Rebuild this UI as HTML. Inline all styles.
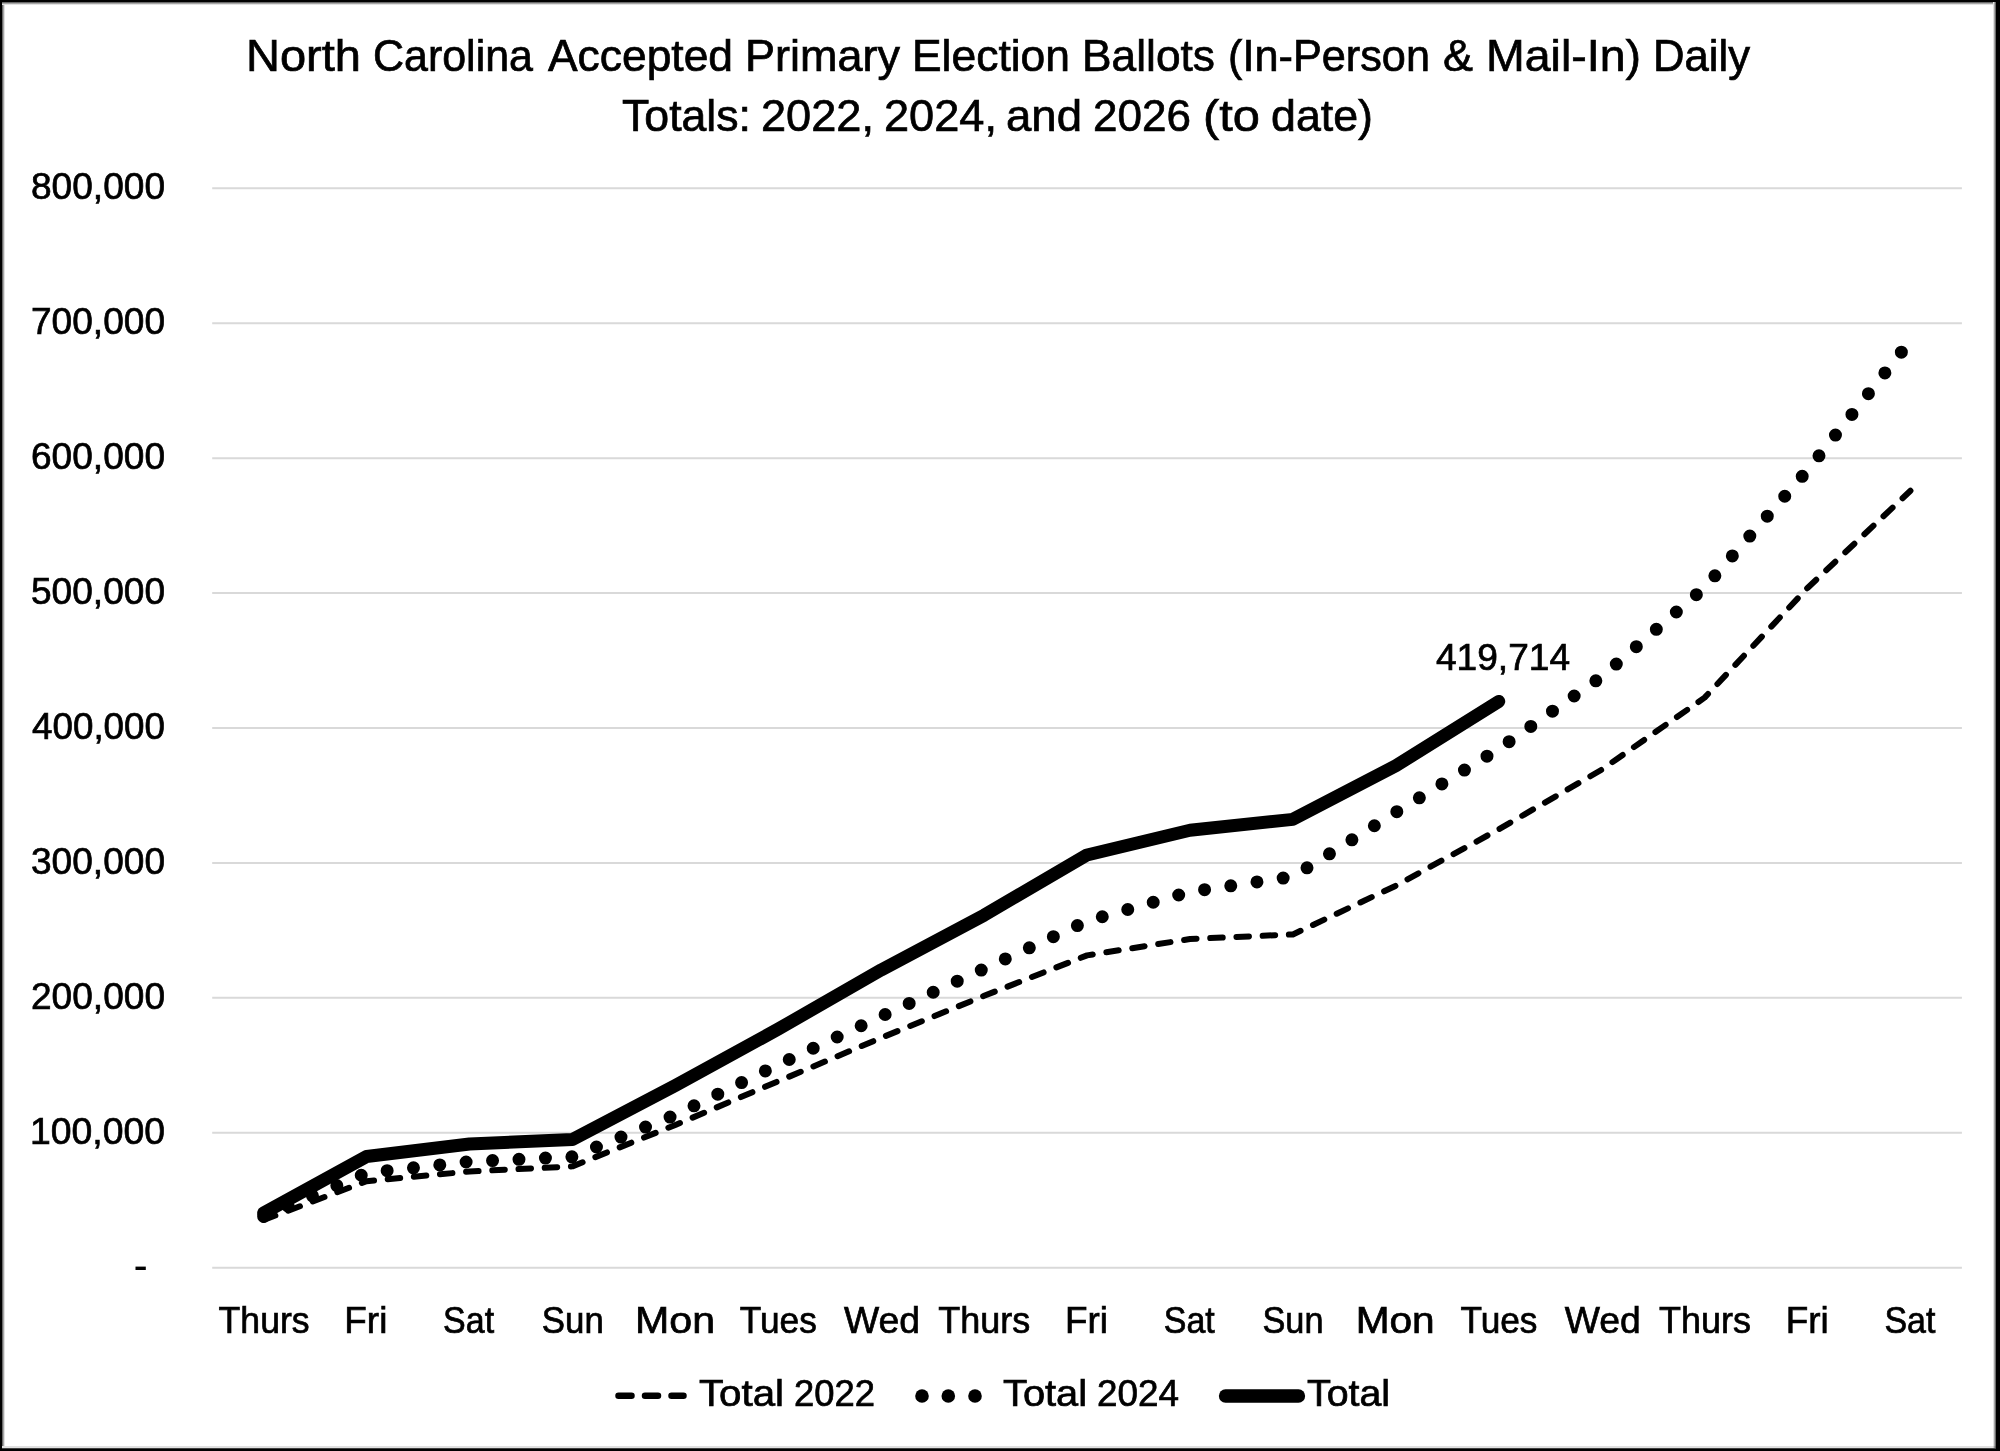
<!DOCTYPE html><html><head><meta charset="utf-8"><style>html,body{margin:0;padding:0;background:#fff;width:2000px;height:1451px;overflow:hidden}svg{display:block}text{font-family:"Liberation Sans",sans-serif;fill:#000;stroke:#000;stroke-width:0.7px}svg{will-change:transform}</style></head><body>
<svg width="2000" height="1451" viewBox="0 0 2000 1451">
<rect x="0" y="0" width="2000" height="1451" fill="#fff"/>
<line x1="212.2" y1="1267.70" x2="1961.9" y2="1267.70" stroke="#d9d9d9" stroke-width="2"/>
<line x1="212.2" y1="1132.78" x2="1961.9" y2="1132.78" stroke="#d9d9d9" stroke-width="2"/>
<line x1="212.2" y1="997.85" x2="1961.9" y2="997.85" stroke="#d9d9d9" stroke-width="2"/>
<line x1="212.2" y1="862.92" x2="1961.9" y2="862.92" stroke="#d9d9d9" stroke-width="2"/>
<line x1="212.2" y1="728.00" x2="1961.9" y2="728.00" stroke="#d9d9d9" stroke-width="2"/>
<line x1="212.2" y1="593.08" x2="1961.9" y2="593.08" stroke="#d9d9d9" stroke-width="2"/>
<line x1="212.2" y1="458.15" x2="1961.9" y2="458.15" stroke="#d9d9d9" stroke-width="2"/>
<line x1="212.2" y1="323.23" x2="1961.9" y2="323.23" stroke="#d9d9d9" stroke-width="2"/>
<line x1="212.2" y1="188.30" x2="1961.9" y2="188.30" stroke="#d9d9d9" stroke-width="2"/>
<text x="246.00" y="71.00" font-size="44.00" textLength="115.00" lengthAdjust="spacingAndGlyphs">North</text>
<text x="373.00" y="71.00" font-size="44.00" textLength="160.00" lengthAdjust="spacingAndGlyphs">Carolina</text>
<text x="548.00" y="71.00" font-size="44.00" textLength="185.00" lengthAdjust="spacingAndGlyphs">Accepted</text>
<text x="745.00" y="71.00" font-size="44.00" textLength="155.00" lengthAdjust="spacingAndGlyphs">Primary</text>
<text x="912.00" y="71.00" font-size="44.00" textLength="158.00" lengthAdjust="spacingAndGlyphs">Election</text>
<text x="1082.00" y="71.00" font-size="44.00" textLength="133.00" lengthAdjust="spacingAndGlyphs">Ballots</text>
<text x="1228.00" y="71.00" font-size="44.00" textLength="202.00" lengthAdjust="spacingAndGlyphs">(In-Person</text>
<text x="1443.00" y="71.00" font-size="44.00" textLength="30.00" lengthAdjust="spacingAndGlyphs">&amp;</text>
<text x="1486.00" y="71.00" font-size="44.00" textLength="155.00" lengthAdjust="spacingAndGlyphs">Mail-In)</text>
<text x="1653.00" y="71.00" font-size="44.00" textLength="97.00" lengthAdjust="spacingAndGlyphs">Daily</text>
<text x="622.00" y="131.00" font-size="44.00" textLength="129.00" lengthAdjust="spacingAndGlyphs">Totals:</text>
<text x="761.00" y="131.00" font-size="44.00" textLength="113.00" lengthAdjust="spacingAndGlyphs">2022,</text>
<text x="884.00" y="131.00" font-size="44.00" textLength="113.00" lengthAdjust="spacingAndGlyphs">2024,</text>
<text x="1006.00" y="131.00" font-size="44.00" textLength="76.00" lengthAdjust="spacingAndGlyphs">and</text>
<text x="1093.00" y="131.00" font-size="44.00" textLength="98.00" lengthAdjust="spacingAndGlyphs">2026</text>
<text x="1203.00" y="131.00" font-size="44.00" textLength="57.00" lengthAdjust="spacingAndGlyphs">(to</text>
<text x="1271.00" y="131.00" font-size="44.00" textLength="102.00" lengthAdjust="spacingAndGlyphs">date)</text>
<text x="30.00" y="1143.58" font-size="37.00" textLength="135.00" lengthAdjust="spacingAndGlyphs">100,000</text>
<text x="31.00" y="1008.65" font-size="37.00" textLength="134.00" lengthAdjust="spacingAndGlyphs">200,000</text>
<text x="31.00" y="873.72" font-size="37.00" textLength="134.00" lengthAdjust="spacingAndGlyphs">300,000</text>
<text x="32.00" y="738.80" font-size="37.00" textLength="133.00" lengthAdjust="spacingAndGlyphs">400,000</text>
<text x="31.00" y="603.88" font-size="37.00" textLength="134.00" lengthAdjust="spacingAndGlyphs">500,000</text>
<text x="31.00" y="468.95" font-size="37.00" textLength="134.00" lengthAdjust="spacingAndGlyphs">600,000</text>
<text x="31.00" y="334.03" font-size="37.00" textLength="134.00" lengthAdjust="spacingAndGlyphs">700,000</text>
<text x="31.00" y="199.10" font-size="37.00" textLength="134.00" lengthAdjust="spacingAndGlyphs">800,000</text>
<text x="218.62" y="1332.60" font-size="37.00" textLength="91.00" lengthAdjust="spacingAndGlyphs">Thurs</text>
<text x="344.35" y="1332.60" font-size="37.00" textLength="43.00" lengthAdjust="spacingAndGlyphs">Fri</text>
<text x="443.09" y="1332.60" font-size="37.00" textLength="51.00" lengthAdjust="spacingAndGlyphs">Sat</text>
<text x="541.82" y="1332.60" font-size="37.00" textLength="62.00" lengthAdjust="spacingAndGlyphs">Sun</text>
<text x="635.06" y="1332.60" font-size="37.00" textLength="80.00" lengthAdjust="spacingAndGlyphs">Mon</text>
<text x="739.79" y="1332.60" font-size="37.00" textLength="77.00" lengthAdjust="spacingAndGlyphs">Tues</text>
<text x="844.03" y="1332.60" font-size="37.00" textLength="76.00" lengthAdjust="spacingAndGlyphs">Wed</text>
<text x="938.26" y="1332.60" font-size="37.00" textLength="92.00" lengthAdjust="spacingAndGlyphs">Thurs</text>
<text x="1065.00" y="1332.60" font-size="37.00" textLength="43.00" lengthAdjust="spacingAndGlyphs">Fri</text>
<text x="1163.74" y="1332.60" font-size="37.00" textLength="51.00" lengthAdjust="spacingAndGlyphs">Sat</text>
<text x="1262.47" y="1332.60" font-size="37.00" textLength="61.00" lengthAdjust="spacingAndGlyphs">Sun</text>
<text x="1355.71" y="1332.60" font-size="37.00" textLength="79.00" lengthAdjust="spacingAndGlyphs">Mon</text>
<text x="1460.44" y="1332.60" font-size="37.00" textLength="77.00" lengthAdjust="spacingAndGlyphs">Tues</text>
<text x="1564.68" y="1332.60" font-size="37.00" textLength="76.00" lengthAdjust="spacingAndGlyphs">Wed</text>
<text x="1658.91" y="1332.60" font-size="37.00" textLength="92.00" lengthAdjust="spacingAndGlyphs">Thurs</text>
<text x="1785.65" y="1332.60" font-size="37.00" textLength="43.00" lengthAdjust="spacingAndGlyphs">Fri</text>
<text x="1884.38" y="1332.60" font-size="37.00" textLength="51.00" lengthAdjust="spacingAndGlyphs">Sat</text>
<text x="1436.00" y="669.70" font-size="37.00" textLength="134.00" lengthAdjust="spacingAndGlyphs">419,714</text>
<text x="699.00" y="1406.25" font-size="37.00" textLength="85.00" lengthAdjust="spacingAndGlyphs">Total</text>
<text x="794.00" y="1406.25" font-size="37.00" textLength="81.00" lengthAdjust="spacingAndGlyphs">2022</text>
<text x="1003.00" y="1406.25" font-size="37.00" textLength="84.00" lengthAdjust="spacingAndGlyphs">Total</text>
<text x="1097.00" y="1406.25" font-size="37.00" textLength="82.00" lengthAdjust="spacingAndGlyphs">2024</text>
<text x="1307.00" y="1406.00" font-size="37.00" textLength="83.00" lengthAdjust="spacingAndGlyphs">Total</text>
<rect x="135.5" y="1266.6" width="10.3" height="3.4" fill="#000"/>
<polyline points="263.66,1219.94 366.59,1181.21 469.51,1171.50 572.43,1166.37 675.36,1124.95 778.28,1081.23 881.20,1037.79 984.13,995.83 1087.05,955.35 1189.97,939.02 1292.90,934.44 1395.82,885.73 1498.74,829.33 1601.67,769.69 1704.59,697.64 1807.51,587.95 1910.44,490.80" fill="none" stroke="#000" stroke-width="6" stroke-dasharray="12.5 13.74" stroke-dashoffset="0" stroke-linecap="round" stroke-linejoin="round"/>
<polyline points="263.66,1216.43 366.59,1172.98 469.51,1161.65 572.43,1156.79 675.36,1114.96 778.28,1064.64 881.20,1016.33 984.13,968.71 1087.05,921.08 1189.97,891.80 1292.90,876.69 1395.82,812.33 1498.74,748.91 1601.67,676.73 1704.59,587.54 1807.51,470.29 1910.44,340.77" fill="none" stroke="#000" stroke-width="13" stroke-dasharray="0 26.48" stroke-linecap="round" stroke-linejoin="round"/>
<polyline points="263.66,1213.06 366.59,1156.52 469.51,1143.97 572.43,1139.52 675.36,1085.55 778.28,1029.02 881.20,969.92 984.13,915.14 1087.05,854.96 1189.97,830.27 1292.90,819.34 1395.82,765.78 1498.74,701.40" fill="none" stroke="#000" stroke-width="13" stroke-linecap="round" stroke-linejoin="round"/>
<line x1="618.5" y1="1395.75" x2="683.5" y2="1395.75" stroke="#000" stroke-width="6.5" stroke-dasharray="13 13.5" stroke-linecap="round"/>
<circle cx="922" cy="1396" r="6.8" fill="#000"/>
<circle cx="948.3" cy="1396" r="6.8" fill="#000"/>
<circle cx="975" cy="1396" r="6.8" fill="#000"/>
<line x1="1225.5" y1="1396" x2="1298.5" y2="1396" stroke="#000" stroke-width="13.3" stroke-linecap="round"/>
<defs><linearGradient id="gT" x1="0" y1="0" x2="0" y2="1"><stop offset="0" stop-color="#000" stop-opacity="0.7"/><stop offset="1" stop-color="#000" stop-opacity="0"/></linearGradient><linearGradient id="gL" x1="0" y1="0" x2="1" y2="0"><stop offset="0" stop-color="#000" stop-opacity="0.7"/><stop offset="1" stop-color="#000" stop-opacity="0"/></linearGradient><linearGradient id="gR" x1="1" y1="0" x2="0" y2="0"><stop offset="0" stop-color="#000" stop-opacity="0.7"/><stop offset="1" stop-color="#000" stop-opacity="0"/></linearGradient></defs>
<rect x="0" y="1446" width="1996" height="2" fill="#e0e0e0"/>
<rect x="0" y="0" width="2000" height="2" fill="#000"/>
<rect x="2" y="2" width="1991" height="3" fill="url(#gT)"/>
<rect x="0" y="0" width="2" height="1451" fill="#000"/>
<rect x="2" y="5" width="3" height="1441" fill="url(#gL)"/>
<rect x="1996" y="0" width="4" height="1451" fill="#000"/>
<rect x="1993" y="2" width="3" height="1446" fill="url(#gR)"/>
<rect x="0" y="1448" width="2000" height="3" fill="#000" fill-opacity="0.75"/>
<rect x="0" y="1449" width="2000" height="2" fill="#000"/>
</svg></body></html>
